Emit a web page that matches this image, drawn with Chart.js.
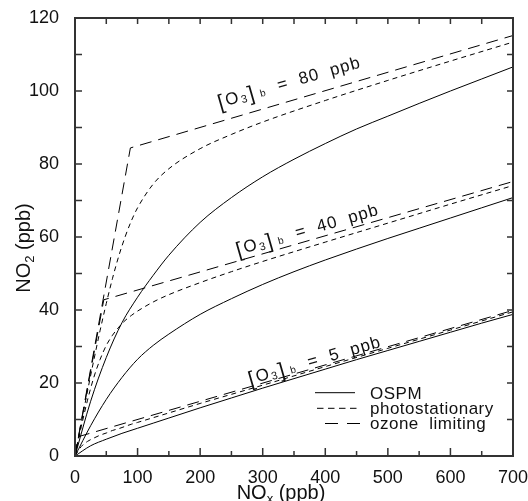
<!DOCTYPE html>
<html>
<head>
<meta charset="utf-8">
<script src="https://cdn.jsdelivr.net/npm/chart.js@4.4.0/dist/chart.umd.min.js"></script>
<style>
  html, body { margin: 0; padding: 0; background: #fff; }
  canvas { display: block; }
</style>
</head>
<body>
<canvas id="no2Chart" width="528" height="501"></canvas>
<script>
// NOx (ppb) positions for the OSPM curves
const noxGrid = [0, 25, 50, 75, 100, 125, 150, 200, 250, 300, 350, 400, 450, 500, 550, 600, 650, 700];
const ospm80 = [0, 15, 27, 36.5, 43.5, 49.5, 55, 64, 70.8, 76.5, 81.3, 85.6, 89.6, 93.1, 96.6, 100, 103.3, 106.6];
const ospm40 = [0, 8.3, 15.5, 21.5, 26.5, 30.3, 33.4, 38.8, 43.1, 47, 50.5, 53.7, 56.7, 59.6, 62.4, 65.2, 68, 70.8];
const ospm5 = [0, 2.8, 4.6, 6.2, 7.6, 9.0, 10.4, 13.2, 15.9, 18.6, 21.2, 23.8, 26.4, 28.9, 31.4, 33.9, 36.4, 38.8];

// photostationary curves
const noxPhoto = [0, 10, 20, 30, 40, 50, 60, 70, 80, 90, 100, 125, 150, 200, 250, 300, 400, 500, 600, 700];
const photo80 = [0, 9.0, 17.8, 26.2, 34.3, 41.8, 48.7, 54.8, 60, 64.4, 68, 74.5, 78.7, 84.2, 88.1, 91.5, 97.4, 102.9, 108.2, 113.4];
const photo40 = [0, 8.0, 15.3, 21.5, 26.4, 30.3, 33.1, 35.3, 37.1, 38.5, 39.7, 42.2, 44.2, 47.5, 50.5, 53.3, 58.6, 63.8, 69.0, 74.1];
const photo5 = [0, 2.6, 4.0, 4.9, 5.7, 6.3, 7.0, 7.5, 8.1, 8.7, 9.2, 10.5, 11.8, 14.4, 16.9, 19.4, 24.5, 29.5, 34.5, 39.5];

// ozone limiting: steep rise then a straight line
const limitNox80 = [0, 88.5, 700];
const limit80 = [0, 84.4, 115.2];
const limitNox40 = [0, 46, 700];
const limit40 = [0, 42.8, 75.2];
const limitNox5 = [0, 5.5, 700];
const limit5 = [0, 5.3, 39.9];

const o3Levels = ["80", "40", "5"];
const legendNames = ["OSPM", "photostationary", "ozone  limiting"];

const SOLID = [];
const SHORT = [5, 4];
const LONG = [12, 7];

function toPoints(xs, ys) {
  return xs.map((x, i) => ({ x: x, y: ys[i] }));
}

function series(xs, ys, dash, smooth) {
  return {
    data: toPoints(xs, ys),
    borderColor: "#000",
    borderWidth: 1,
    borderDash: dash,
    pointRadius: 0,
    fill: false,
    tension: 0,
    cubicInterpolationMode: smooth ? "monotone" : "default",
  };
}

const TEXT = "#111";
const FONT = "'Liberation Sans', Arial, sans-serif";

// frame with inward ticks on all four sides
const frameTicks = {
  id: "frameTicks",
  afterDraw(chart) {
    const { ctx, chartArea: a, scales } = chart;
    ctx.save();
    ctx.strokeStyle = "#333";
    ctx.lineWidth = 1.5;
    ctx.beginPath();
    for (let v = 50; v < 700; v += 50) {
      const px = scales.x.getPixelForValue(v);
      const big = v % 100 === 0;
      ctx.moveTo(px, a.bottom);
      ctx.lineTo(px, a.bottom - (big ? 8 : 5));
      ctx.moveTo(px, a.top);
      ctx.lineTo(px, a.top + 6);
    }
    for (let v = 10; v < 120; v += 10) {
      const py = scales.y.getPixelForValue(v);
      ctx.moveTo(a.left, py);
      ctx.lineTo(a.left + 7, py);
      ctx.moveTo(a.right, py);
      ctx.lineTo(a.right - 6, py);
    }
    ctx.stroke();
    ctx.lineWidth = 2;
    ctx.strokeRect(a.left, a.top, a.right - a.left, a.bottom - a.top);
    ctx.restore();
  },
};

// "[O3]b = .. ppb" labels along the curves
function drawO3Label(ctx, px, py, level) {
  const parts = [
    { t: "[", size: 21, dy: 2 },
    { t: "O", size: 17, dy: 0 },
    { t: "3", size: 11, dy: 2 },
    { t: "]", size: 21, dy: 2 },
    { t: " b", size: 10, dy: 1 },
    { t: "  =  " + level + "  ppb", size: 17, dy: 0 },
  ];
  ctx.save();
  ctx.translate(px, py);
  ctx.rotate(-16 * Math.PI / 180);
  ctx.fillStyle = TEXT;
  ctx.textBaseline = "alphabetic";
  ctx.textAlign = "left";
  let cx = 0;
  parts.forEach((p) => {
    ctx.font = p.size + "px " + FONT;
    ctx.letterSpacing = "1px";
    ctx.fillText(p.t, cx, p.dy);
    cx += ctx.measureText(p.t).width + 1;
  });
  ctx.restore();
}

const labels = {
  id: "labels",
  afterDraw(chart) {
    const { ctx, scales } = chart;
    const spots = [[231, 95.4], [260, 55], [279.5, 19.6]];
    spots.forEach((s, i) => {
      drawO3Label(ctx, scales.x.getPixelForValue(s[0]), scales.y.getPixelForValue(s[1]), o3Levels[i]);
    });

    // legend
    ctx.save();
    ctx.strokeStyle = "#000";
    ctx.lineWidth = 1;
    const rows = [
      { y: 392.7, x0: 315, x1: 355, dash: [] },
      { y: 408.3, x0: 317, x1: 357, dash: [6.5, 4.5] },
      { y: 423.5, x0: 325, x1: 360, dash: [13, 9] },
    ];
    const baselines = [398.5, 413.5, 429];
    rows.forEach((r, i) => {
      ctx.setLineDash(r.dash);
      ctx.beginPath();
      ctx.moveTo(r.x0, r.y);
      ctx.lineTo(r.x1, r.y);
      ctx.stroke();
      ctx.setLineDash([]);
      ctx.fillStyle = TEXT;
      ctx.font = "17px " + FONT;
      ctx.letterSpacing = "0.5px";
      ctx.textAlign = "left";
      ctx.textBaseline = "alphabetic";
      ctx.fillText(legendNames[i], 370, baselines[i]);
    });
    ctx.letterSpacing = "0px";

    // axis titles with subscripts
    const big = "20px " + FONT;
    const sub = "13px " + FONT;
    // x title
    let parts = [["NO", 0, big], ["x", 4, sub], [" (ppb)", 0, big]];
    let total = 0;
    parts.forEach((p) => { ctx.font = p[2]; total += ctx.measureText(p[0]).width; });
    let cx = 281 - total / 2;
    parts.forEach((p) => {
      ctx.font = p[2];
      ctx.fillText(p[0], cx, 499 + p[1]);
      cx += ctx.measureText(p[0]).width;
    });
    // y title
    ctx.translate(30, 248);
    ctx.rotate(-Math.PI / 2);
    parts = [["NO", 0, big], ["2", 4, sub], [" (ppb)", 0, big]];
    total = 0;
    parts.forEach((p) => { ctx.font = p[2]; total += ctx.measureText(p[0]).width; });
    cx = -total / 2;
    parts.forEach((p) => {
      ctx.font = p[2];
      ctx.fillText(p[0], cx, p[1]);
      cx += ctx.measureText(p[0]).width;
    });
    ctx.restore();
  },
};

const ctx = document.getElementById("no2Chart").getContext("2d");
const no2Chart = new Chart(ctx, {
  type: "line",
  data: {
    datasets: [
      series(noxGrid, ospm80, SOLID, true),
      series(noxGrid, ospm40, SOLID, true),
      series(noxGrid, ospm5, SOLID, true),
      series(noxPhoto, photo80, SHORT, true),
      series(noxPhoto, photo40, SHORT, true),
      series(noxPhoto, photo5, SHORT, true),
      series(limitNox80, limit80, LONG, false),
      series(limitNox40, limit40, LONG, false),
      series(limitNox5, limit5, LONG, false),
    ],
  },
  options: {
    responsive: false,
    animation: false,
    layout: { padding: { top: 18, right: 15, left: 0, bottom: 0 } },
    plugins: {
      legend: { display: false },
      tooltip: { enabled: false },
    },
    scales: {
      x: {
        type: "linear",
        min: 0,
        max: 700,
        grid: { display: false },
        border: { display: false },
        ticks: {
          stepSize: 100,
          maxRotation: 0,
          padding: 3,
          color: TEXT,
          font: { family: FONT, size: 18 },
        },
        afterFit(s) {
          s.height = 45;
          s.paddingLeft = 0;
          s.paddingRight = 0;
        },
      },
      y: {
        min: 0,
        max: 120,
        grid: { display: false },
        border: { display: false },
        ticks: {
          stepSize: 20,
          padding: 8,
          color: TEXT,
          font: { family: FONT, size: 18 },
        },
        afterFit(s) {
          s.width = 75;
          s.paddingTop = 0;
          s.paddingBottom = 0;
        },
      },
    },
  },
  plugins: [frameTicks, labels],
});
</script>
</body>
</html>
